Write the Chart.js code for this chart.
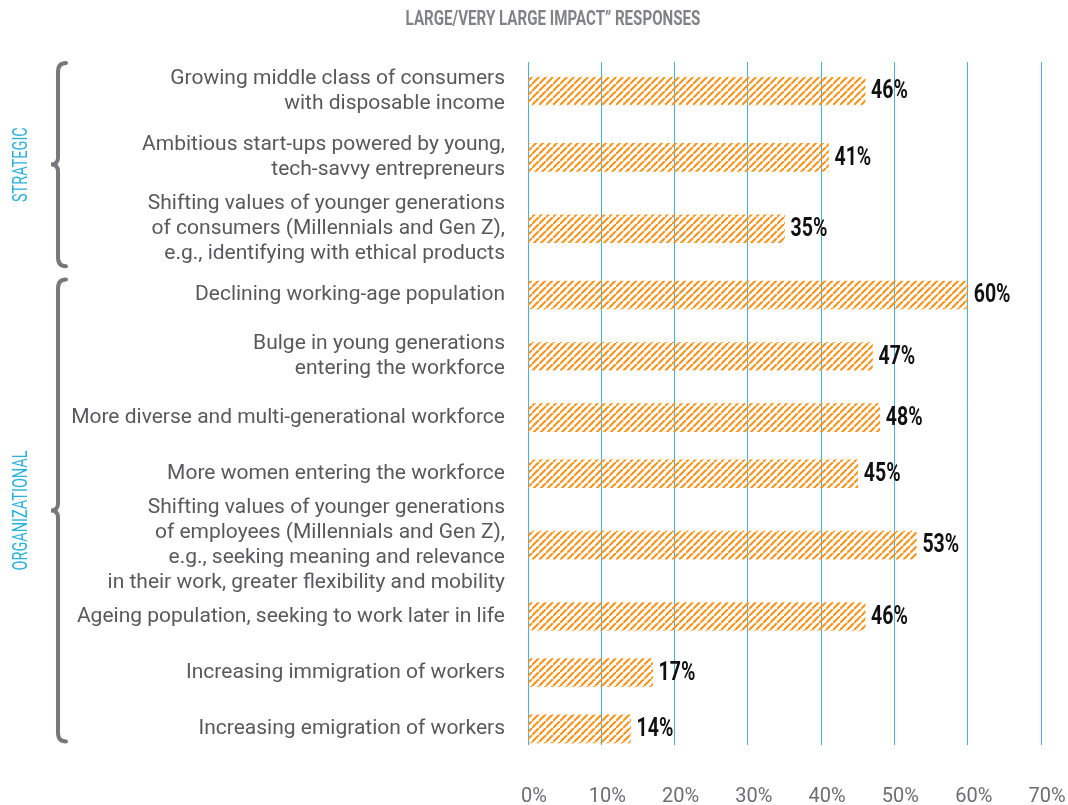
<!DOCTYPE html>
<html lang="en">
<head>
<meta charset="utf-8">
<title>Large/very large impact responses</title>
<script src="https://cdn.jsdelivr.net/npm/chart.js@4.4.1/dist/chart.umd.min.js"></script>
<style>
  html, body { margin: 0; background: #fff; }
  #wrap { width: 1068px; height: 805px; position: relative; }
</style>
</head>
<body>
<div id="wrap"><canvas id="chart"></canvas></div>
<script>
// ── Data ─────────────────────────────────────────────────────────────────────
const TITLE = 'LARGE/VERY LARGE IMPACT\u201D RESPONSES';
const CATEGORIES = [
  ['Growing middle class of consumers', 'with disposable income'],
  ['Ambitious start-ups powered by young,', 'tech-savvy entrepreneurs'],
  ['Shifting values of younger generations', 'of consumers (Millennials and Gen Z),', 'e.g., identifying with ethical products'],
  ['Declining working-age population'],
  ['Bulge in young generations', 'entering the workforce'],
  ['More diverse and multi-generational workforce'],
  ['More women entering the workforce'],
  ['Shifting values of younger generations', 'of employees (Millennials and Gen Z),', 'e.g., seeking meaning and relevance', 'in their work, greater flexibility and mobility'],
  ['Ageing population, seeking to work later in life'],
  ['Increasing immigration of workers'],
  ['Increasing emigration of workers'],
];
const VALUES = [46, 41, 35, 60, 47, 48, 45, 53, 46, 17, 14];
const GROUPS = ['STRATEGIC', 'ORGANIZATIONAL'];
const GROUP_ROWS = [3, 8];
const X_TICKS = [0, 10, 20, 30, 40, 50, 60, 70];

// Rows with longer labels get a little more room, as in the original layout.
const lines = CATEGORIES.map(c => c.length);
const slot = lines.map(n => 1 + 0.22 * n);
const POS = [];
slot.forEach((s, i) => POS.push(i === 0 ? 0 : POS[i - 1] + (slot[i - 1] + s) / 2));

// ── Hatch pattern for the bars ───────────────────────────────────────────────
function hatch() {
  const size = 7;
  const c = document.createElement('canvas');
  c.width = size; c.height = size;
  const g = c.getContext('2d');
  g.strokeStyle = '#f7941d';
  g.lineWidth = 2.1;
  g.beginPath();
  g.moveTo(0, size); g.lineTo(size, 0);
  g.moveTo(-size, size); g.lineTo(0, 0);
  g.moveTo(size, 2 * size); g.lineTo(2 * size, size);
  g.stroke();
  return g.createPattern(c, 'repeat');
}

// ── Title, brackets, group names and value labels ────────────────────────────
const decor = {
  id: 'decor',
  afterDatasetsDraw(chart) {
    const ctx = chart.ctx;
    const meta = chart.getDatasetMeta(0);
    ctx.save();
    ctx.fillStyle = '#111';
    ctx.font = 'bold 25px Roboto';
    ctx.textBaseline = 'middle';
    meta.data.forEach((bar, i) => {
      ctx.save();
      ctx.translate(bar.x + 6, bar.y + 1);
      ctx.scale(0.78, 1);
      ctx.fillText(VALUES[i] + '%', 0, 0);
      ctx.restore();
    });
    ctx.restore();
  },
  afterDraw(chart) {
    const ctx = chart.ctx;
    const y = chart.scales.y;

    ctx.save();
    ctx.fillStyle = '#808285';
    ctx.font = 'bold 21px Roboto';
    ctx.textAlign = 'center';
    ctx.textBaseline = 'middle';
    ctx.translate(553, 20);
    ctx.scale(0.72, 1);
    ctx.fillText(TITLE, 0, 0);
    ctx.restore();

    let first = 0;
    GROUPS.forEach((name, g) => {
      const last = first + GROUP_ROWS[g] - 1;
      const top = y.getPixelForValue(POS[first]) - lines[first] * 12.5 - 3;
      const bot = y.getPixelForValue(POS[last]) + lines[last] * 12.5;
      const mid = (top + bot) / 2;

      ctx.save();
      ctx.strokeStyle = '#77787b';
      ctx.lineWidth = 4;
      ctx.lineCap = 'round';
      ctx.beginPath();
      ctx.moveTo(66, top);
      ctx.quadraticCurveTo(58, top, 58, top + 9);
      ctx.lineTo(58, mid - 7);
      ctx.quadraticCurveTo(58, mid, 51, mid);
      ctx.quadraticCurveTo(58, mid, 58, mid + 7);
      ctx.lineTo(58, bot - 9);
      ctx.quadraticCurveTo(58, bot, 66, bot);
      ctx.stroke();

      ctx.fillStyle = '#29b0dc';
      ctx.font = '21px Roboto';
      ctx.textAlign = 'center';
      ctx.textBaseline = 'middle';
      ctx.translate(22, mid);
      ctx.rotate(-Math.PI / 2);
      ctx.scale(0.69, 1);
      ctx.fillText(name, 0, 0);
      ctx.restore();

      first = last + 1;
    });
  },
};

// Keep Chart.js from adding its own edge padding for tick labels.
function sinPadding(a) {
  a.paddingLeft = a.paddingRight = a.paddingTop = a.paddingBottom = 0;
}

// ── Chart ────────────────────────────────────────────────────────────────────
new Chart(document.getElementById('chart').getContext('2d'), {
  type: 'bar',
  data: {
    datasets: [{
      data: VALUES.map((v, i) => ({ x: v, y: POS[i] })),
      backgroundColor: hatch(),
      borderWidth: 0,
      barThickness: 28,
    }],
  },
  options: {
    indexAxis: 'y',
    responsive: true, maintainAspectRatio: false,
    animation: false,
    layout: { padding: { top: 62, right: 27, left: 0, bottom: 0 } },
    plugins: { legend: { display: false }, tooltip: { enabled: false } },
    scales: {
      x: {
        type: 'linear', min: 0, max: 70, position: 'bottom',
        afterBuildTicks: a => { a.ticks = X_TICKS.map(v => ({ value: v })); },
        afterFit: a => { a.height = 60; sinPadding(a); },
        grid: { color: '#45b3d9', lineWidth: 1, drawTicks: false },
        border: { display: false },
        ticks: {
          padding: 40, labelOffset: 6, color: '#6d6e71',
          font: { family: 'Roboto', size: 20 },
          callback: v => v + '%',
        },
      },
      y: {
        type: 'linear', reverse: true, offset: false,
        min: -0.63, max: POS[POS.length - 1] + 0.35,
        afterBuildTicks: a => { a.ticks = POS.map(v => ({ value: v })); },
        afterFit: a => { a.width = 528; sinPadding(a); },
        grid: { display: false, drawTicks: false },
        border: { display: false },
        ticks: {
          autoSkip: false, padding: 23, color: '#58595b',
          font: { family: 'Roboto', size: 21, lineHeight: 1.19 },
          callback: (v, i) => CATEGORIES[i],
        },
      },
    },
  },
  plugins: [decor],
});
</script>
</body>
</html>
